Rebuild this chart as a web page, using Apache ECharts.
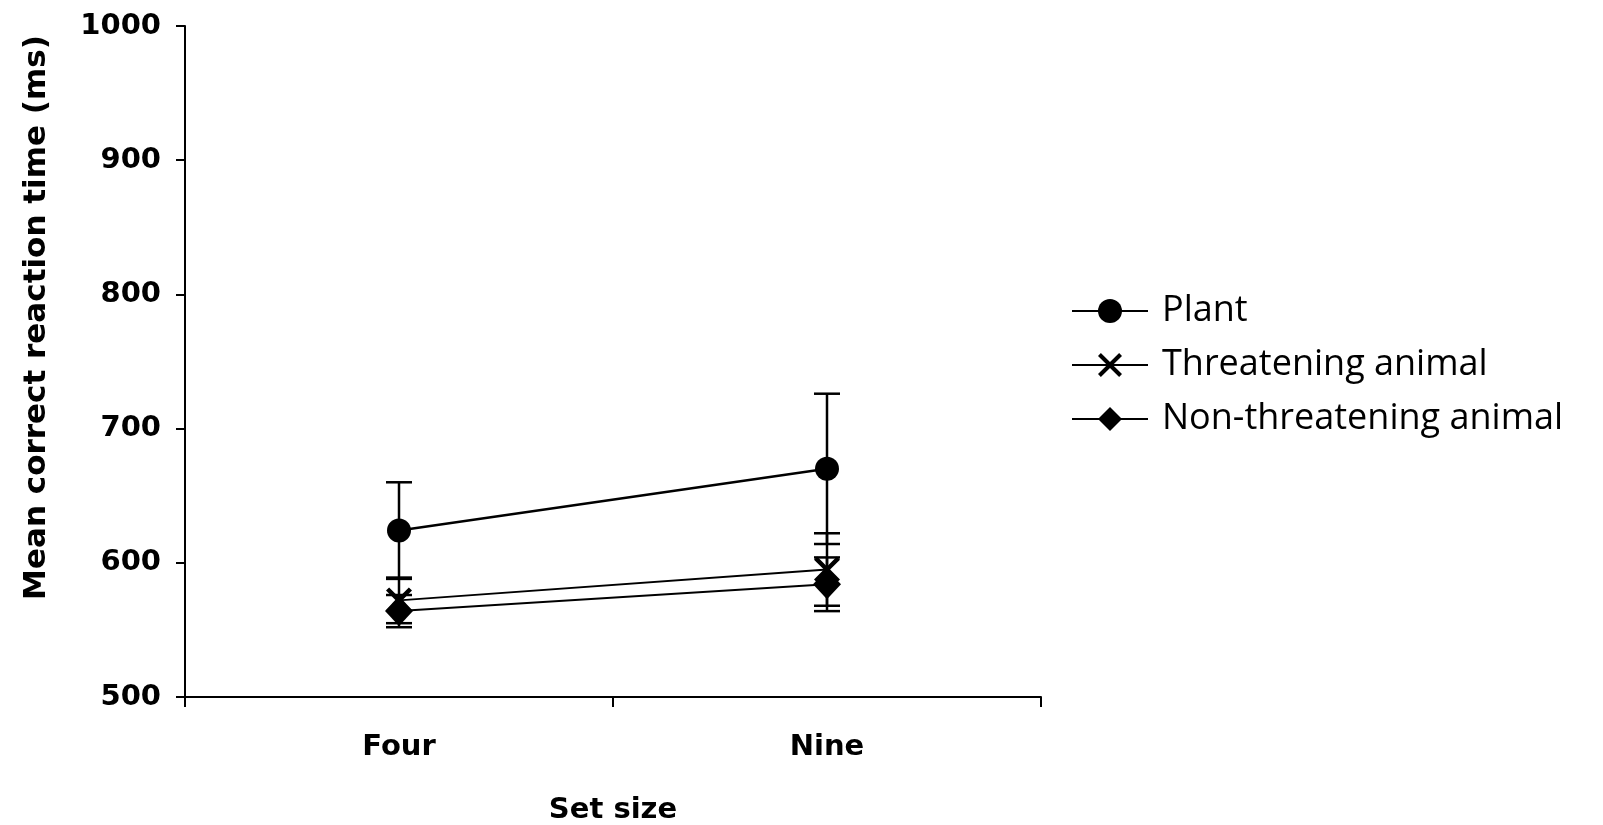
<!DOCTYPE html>
<html>
<head>
<meta charset="utf-8">
<script src="https://cdn.jsdelivr.net/npm/echarts@6/dist/echarts.min.js"></script>
<style>html,body{margin:0;padding:0;background:#fff;}#c{width:1603px;height:825px;}</style>
</head>
<body>
<div id="c"></div>
<script>
const categories = ['Four', 'Nine'];
const seriesNames = ['Plant', 'Threatening animal', 'Non-threatening animal'];
const plantMean = [624, 670];
const plantErr = [36, 56];
const threatMean = [572, 595];
const threatErr = [17, 27];
const nonThreatMean = [564, 584];
const nonThreatErr = [12, 20];
const yTicks = [500, 600, 700, 800, 900, 1000];

const xPath = 'path://M0,1.2 L1.2,0 L5,3.8 L8.8,0 L10,1.2 L6.2,5 L10,8.8 L8.8,10 L5,6.2 L1.2,10 L0,8.8 L3.8,5 Z';
const axisFont = 'DejaVu Sans';

function errData(means, errs) {
  return means.map((m, i) => [i, m - errs[i], m + errs[i]]);
}
function errSeries(name, means, errs) {
  return {
    type: 'custom',
    name: name + ' err',
    z: 1,
    silent: true,
    renderItem: function (params, api) {
      const x = api.value(0);
      const lo = api.coord([x, api.value(1)]);
      const hi = api.coord([x, api.value(2)]);
      const hw = 13;
      const st = { stroke: '#000', lineWidth: 2.5 };
      return {
        type: 'group',
        children: [
          { type: 'line', shape: { x1: lo[0], y1: lo[1], x2: hi[0], y2: hi[1] }, style: st },
          { type: 'line', shape: { x1: lo[0] - hw, y1: lo[1], x2: lo[0] + hw, y2: lo[1] }, style: st },
          { type: 'line', shape: { x1: hi[0] - hw, y1: hi[1], x2: hi[0] + hw, y2: hi[1] }, style: st }
        ]
      };
    },
    data: errData(means, errs)
  };
}

const chart = echarts.init(document.getElementById('c'));
chart.setOption({
  backgroundColor: '#fff',
  animation: false,
  grid: { left: 185, top: 26, right: 562, bottom: 128, containLabel: false, outerBoundsMode: 'none' },
  legend: {
    data: seriesNames,
    orient: 'vertical',
    left: 1066,
    top: 288,
    itemWidth: 76,
    itemHeight: 30,
    itemGap: 18,
    textStyle: { fontFamily: 'Open Sans', fontSize: 36, color: '#000', padding: [0, 0, 0, 9] }
  },
  xAxis: {
    type: 'category',
    data: categories,
    boundaryGap: true,
    axisLine: { lineStyle: { color: '#000', width: 2 } },
    axisTick: { show: true, length: 10, lineStyle: { color: '#000', width: 2 } },
    axisLabel: { margin: 36, fontFamily: axisFont, fontWeight: 'bold', fontSize: 29, color: '#000' },
    name: 'Set size',
    nameLocation: 'middle',
    nameGap: 99,
    nameTextStyle: { fontFamily: axisFont, fontWeight: 'bold', fontSize: 29, color: '#000' }
  },
  yAxis: {
    type: 'value',
    min: 500,
    max: 1000,
    interval: 100,
    splitLine: { show: false },
    axisLine: { show: true, lineStyle: { color: '#000', width: 2 } },
    axisTick: { show: true, length: 9, lineStyle: { color: '#000', width: 2 } },
    axisLabel: {
      margin: 24, fontFamily: axisFont, fontWeight: 'bold', fontSize: 29, color: '#000',
      formatter: function (v) { return yTicks.indexOf(v) >= 0 ? String(v) : ''; }
    },
    name: 'Mean correct reaction time (ms)',
    nameLocation: 'middle',
    nameGap: 133,
    nameTextStyle: { fontFamily: axisFont, fontWeight: 'bold', fontSize: 31, color: '#000', padding: [0, 0, 0, 88] }
  },
  series: [
    errSeries('Plant', plantMean, plantErr),
    errSeries('Threatening animal', threatMean, threatErr),
    errSeries('Non-threatening animal', nonThreatMean, nonThreatErr),
    {
      type: 'line', name: 'Plant', data: plantMean, z: 3,
      symbol: 'circle', symbolSize: 24,
      lineStyle: { color: '#000', width: 2.5 },
      itemStyle: { color: '#000' }
    },
    {
      type: 'line', name: 'Threatening animal', data: threatMean, z: 3,
      symbol: xPath, symbolSize: 26,
      lineStyle: { color: '#000', width: 2 },
      itemStyle: { color: '#000' }
    },
    {
      type: 'line', name: 'Non-threatening animal', data: nonThreatMean, z: 3,
      symbol: 'diamond', symbolSize: [28, 30],
      lineStyle: { color: '#000', width: 2 },
      itemStyle: { color: '#000' }
    }
  ]
});
</script>
</body>
</html>
